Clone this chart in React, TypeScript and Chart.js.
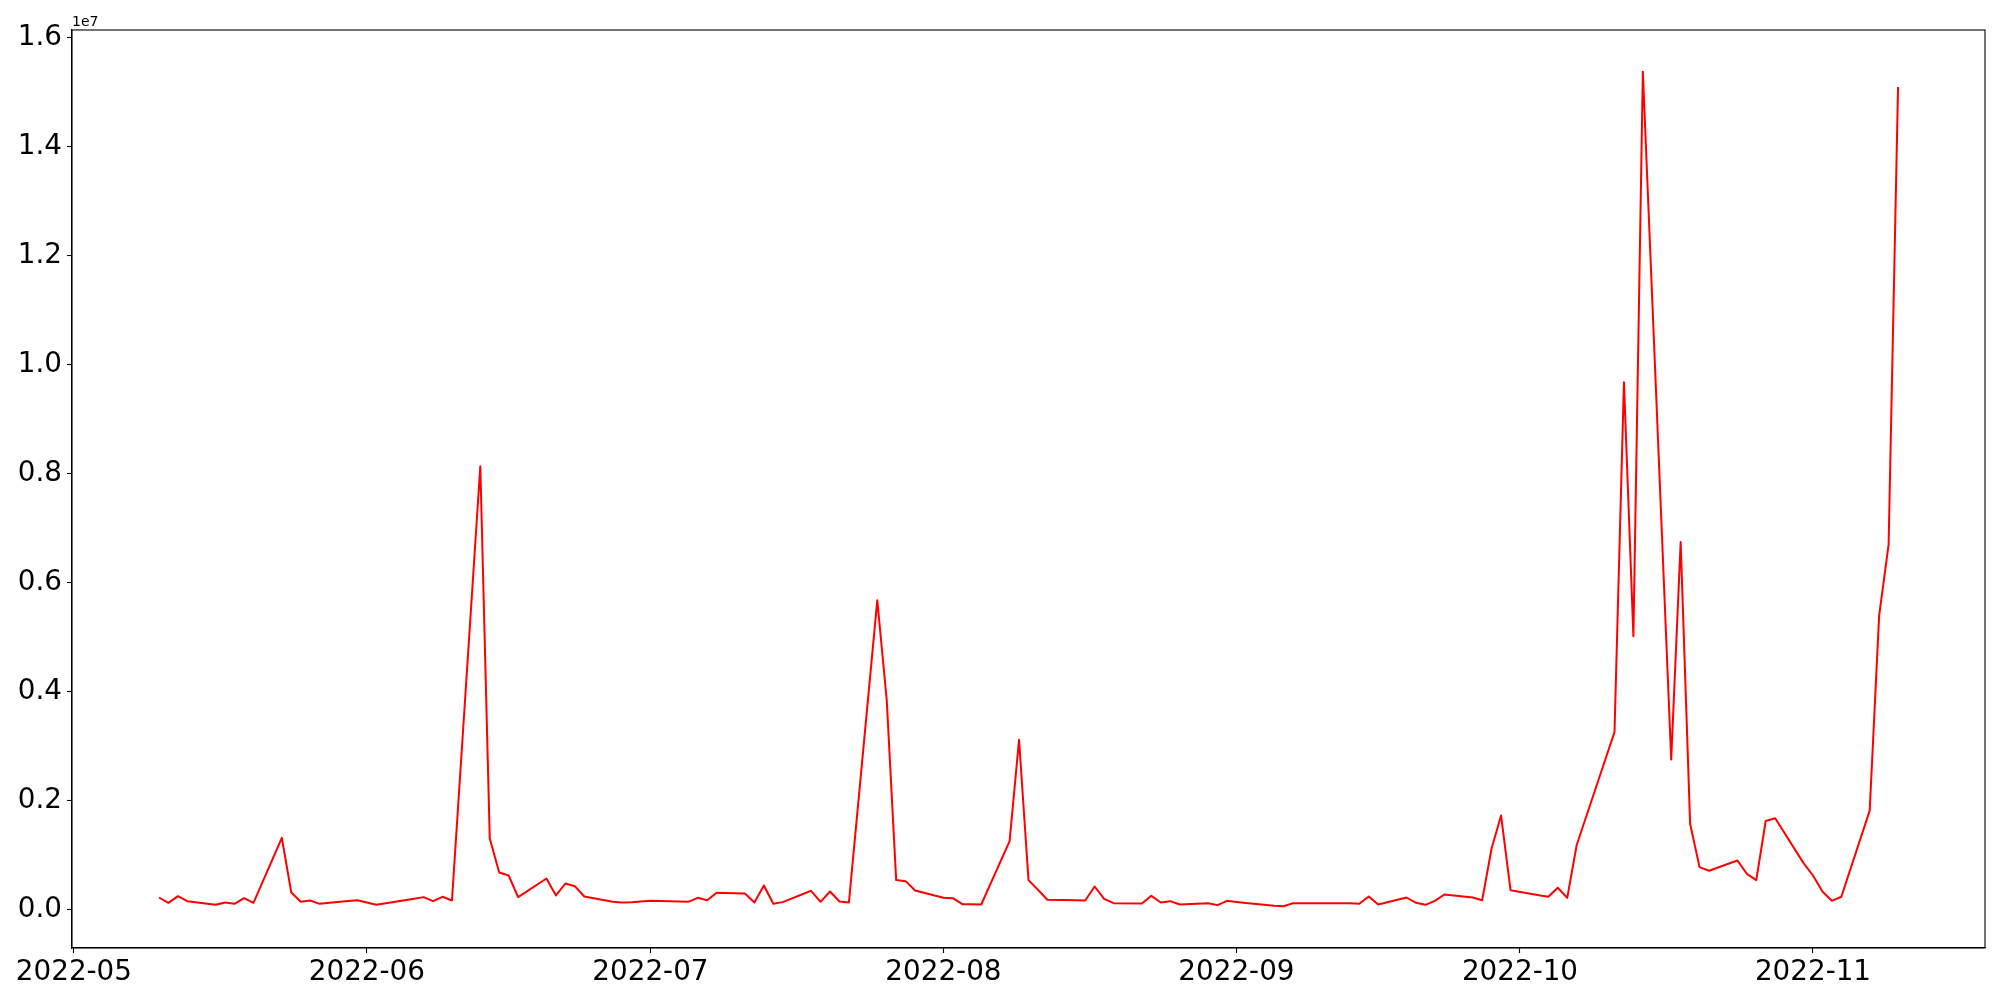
import React, { useEffect, useRef } from "react";
import { Chart, registerables } from "chart.js";

Chart.register(...registerables);

const dates = [
  "2022-05-10", "2022-05-11", "2022-05-12", "2022-05-13",
  "2022-05-16", "2022-05-17", "2022-05-18", "2022-05-19", "2022-05-20",
  "2022-05-23", "2022-05-24", "2022-05-25", "2022-05-26", "2022-05-27",
  "2022-05-30", "2022-05-31", "2022-06-01", "2022-06-02", "2022-06-03",
  "2022-06-06", "2022-06-07", "2022-06-08", "2022-06-09", "2022-06-10",
  "2022-06-13", "2022-06-14", "2022-06-15", "2022-06-16", "2022-06-17",
  "2022-06-20", "2022-06-21", "2022-06-22", "2022-06-23", "2022-06-24",
  "2022-06-27", "2022-06-28", "2022-06-29", "2022-06-30", "2022-07-01",
  "2022-07-04", "2022-07-05", "2022-07-06", "2022-07-07", "2022-07-08",
  "2022-07-11", "2022-07-12", "2022-07-13", "2022-07-14", "2022-07-15",
  "2022-07-18", "2022-07-19", "2022-07-20", "2022-07-21", "2022-07-22",
  "2022-07-25", "2022-07-26", "2022-07-27", "2022-07-28", "2022-07-29",
  "2022-08-01", "2022-08-02", "2022-08-03", "2022-08-04", "2022-08-05",
  "2022-08-08", "2022-08-09", "2022-08-10", "2022-08-11", "2022-08-12",
  "2022-08-15", "2022-08-16", "2022-08-17", "2022-08-18", "2022-08-19",
  "2022-08-22", "2022-08-23", "2022-08-24", "2022-08-25", "2022-08-26",
  "2022-08-29", "2022-08-30", "2022-08-31", "2022-09-01", "2022-09-02",
  "2022-09-05", "2022-09-06", "2022-09-07", "2022-09-08", "2022-09-09",
  "2022-09-12", "2022-09-13", "2022-09-14", "2022-09-15", "2022-09-16",
  "2022-09-19", "2022-09-20", "2022-09-21", "2022-09-22", "2022-09-23",
  "2022-09-26", "2022-09-27", "2022-09-28", "2022-09-29", "2022-09-30",
  "2022-10-03", "2022-10-04", "2022-10-05", "2022-10-06", "2022-10-07",
  "2022-10-10", "2022-10-11", "2022-10-12", "2022-10-13", "2022-10-14",
  "2022-10-17", "2022-10-18", "2022-10-19", "2022-10-20", "2022-10-21",
  "2022-10-24", "2022-10-25", "2022-10-26", "2022-10-27", "2022-10-28",
  "2022-10-31", "2022-11-01", "2022-11-02", "2022-11-03", "2022-11-04",
  "2022-11-07", "2022-11-08", "2022-11-09", "2022-11-10",
];

const values = [
  226000, 128000, 250000, 159000,
  92000, 135000, 110000, 214000, 128000,
  1320000, 318000, 147000, 171000, 110000,
  161000, 177000, 135000, 92000, 119000,
  205000, 233000, 159000, 239000, 171000,
  8140000, 1310000, 685000, 630000, 232000,
  575000, 263000, 483000, 434000, 245000,
  147000, 135000, 141000, 153000, 165000,
  153000, 147000, 220000, 177000, 312000,
  300000, 135000, 447000, 110000, 141000,
  349000, 147000, 337000, 153000, 135000,
  5680000, 3850000, 545000, 526000, 355000,
  220000, 214000, 104000, 104000, 98000,
  1260000, 3120000, 545000, 367000, 184000,
  177000, 171000, 428000, 202000, 122000,
  116000, 257000, 135000, 159000, 98000,
  122000, 86000, 165000, 145000, 127000,
  73000, 65000, 122000, 122000, 122000,
  122000, 122000, 110000, 245000, 98000,
  226000, 128000, 92000, 165000, 281000,
  226000, 177000, 1130000, 1730000, 361000,
  267000, 239000, 404000, 220000, 1190000,
  2745000, 3260000, 9680000, 5020000, 15380000,
  2760000, 6750000, 1580000, 783000, 716000,
  906000, 661000, 545000, 1630000, 1680000,
  857000, 630000, 336000, 165000, 239000,
  1820000, 5400000, 6700000, 15100000,
];

const monthTicks = ["2022-05", "2022-06", "2022-07", "2022-08", "2022-09", "2022-10", "2022-11"];
const yTickValues = [0, 2e6, 4e6, 6e6, 8e6, 10e6, 12e6, 14e6, 16e6];

const toMs = (s: string) => Date.parse(s + "T00:00:00Z");

const framePlugin = {
  id: "frame",
  afterDraw(chart: any) {
    const { ctx, chartArea } = chart;
    const { left, top, right, bottom } = chartArea;
    ctx.save();
    ctx.strokeStyle = "#000";
    ctx.lineWidth = 1.1;
    ctx.strokeRect(left, top, right - left, bottom - top);
    ctx.fillStyle = "#000";
    ctx.font = '14px "DejaVu Sans"';
    ctx.textAlign = "left";
    ctx.textBaseline = "alphabetic";
    ctx.fillText("1e7", left, top - 4);
    ctx.restore();
  },
};

export default function App() {
  const ref = useRef<HTMLCanvasElement | null>(null);

  useEffect(() => {
    if (!ref.current) return;
    const xs = dates.map(toMs);
    const xMin0 = xs[0];
    const xMax0 = xs[xs.length - 1];
    const xr = xMax0 - xMin0;
    const yMin0 = Math.min(...values);
    const yMax0 = Math.max(...values);
    const yr = yMax0 - yMin0;
    const font = { family: '"DejaVu Sans"', size: 27.8 };

    const chart = new Chart(ref.current, {
      type: "line",
      data: {
        datasets: [
          {
            data: xs.map((x, i) => ({ x, y: values[i] })),
            borderColor: "#ff0000",
            borderWidth: 2,
            pointRadius: 0,
            tension: 0,
            fill: false,
            borderJoinStyle: "round",
          },
        ],
      },
      options: {
        responsive: false,
        animation: false,
        devicePixelRatio: 1,
        layout: { padding: { top: 30, right: 15, left: 0, bottom: 0 } },
        plugins: { legend: { display: false }, tooltip: { enabled: false } },
        scales: {
          x: {
            type: "linear",
            min: xMin0 - 0.05 * xr,
            max: xMax0 + 0.05 * xr,
            afterBuildTicks: (axis: any) => {
              axis.ticks = monthTicks.map((m) => ({ value: toMs(m + "-01") }));
            },
            afterFit: (axis: any) => {
              axis.height = 52;
            },
            ticks: {
              autoSkip: false,
              maxRotation: 0,
              minRotation: 0,
              padding: 3,
              color: "#000",
              font,
              callback: (v: any) => {
                const d = new Date(Number(v));
                const mm = String(d.getUTCMonth() + 1).padStart(2, "0");
                return `${d.getUTCFullYear()}-${mm}`;
              },
            },
            grid: {
              display: true,
              drawOnChartArea: false,
              drawTicks: true,
              tickLength: 5,
              tickWidth: 1.1,
              tickColor: "#000",
            },
            border: { display: true, color: "#000", width: 1.1 },
          },
          y: {
            type: "linear",
            min: yMin0 - 0.05 * yr,
            max: yMax0 + 0.05 * yr,
            afterBuildTicks: (axis: any) => {
              axis.ticks = yTickValues.map((value) => ({ value }));
            },
            afterFit: (axis: any) => {
              axis.width = 72;
            },
            ticks: {
              padding: 5,
              color: "#000",
              font,
              callback: (v: any) => (Number(v) / 1e7).toFixed(1),
            },
            grid: {
              display: true,
              drawOnChartArea: false,
              drawTicks: true,
              tickLength: 5,
              tickWidth: 1.1,
              tickColor: "#000",
            },
            border: { display: true, color: "#000", width: 1.1 },
          },
        },
      },
      plugins: [framePlugin],
    } as any);

    return () => chart.destroy();
  }, []);

  return (
    <div style={{ position: "absolute", left: 0, top: 0, width: 2000, height: 1000, background: "#fff" }}>
      <canvas ref={ref} width={2000} height={1000} style={{ display: "block", width: 2000, height: 1000 }} />
    </div>
  );
}
